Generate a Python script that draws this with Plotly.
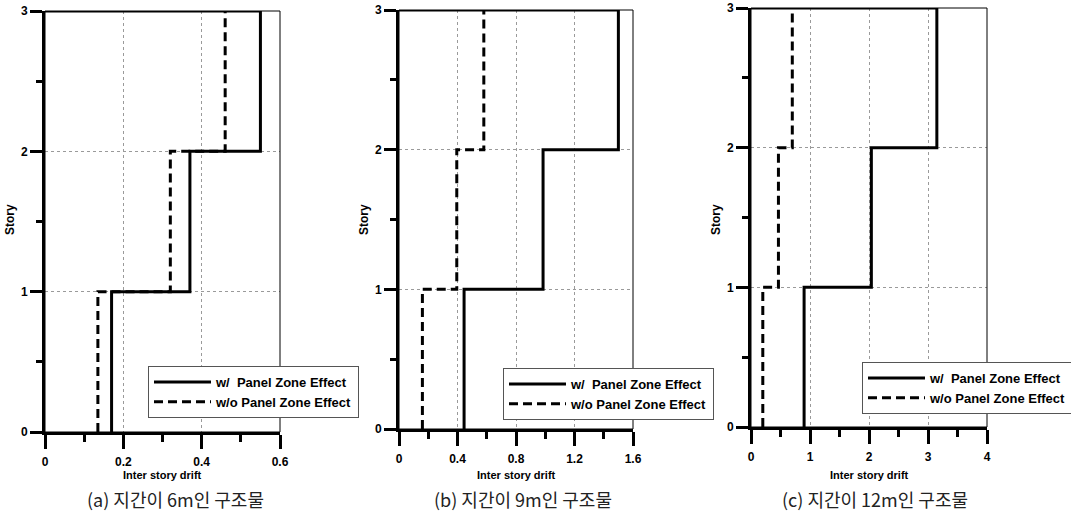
import plotly.graph_objects as go

W, H = 1071, 523

# ---- data ----
stories = [1, 2, 3]
story_ticks = [0, 1, 2, 3]

drift_a_with = [0.17, 0.37, 0.55]
drift_a_without = [0.135, 0.32, 0.46]
drift_b_with = [0.445, 0.985, 1.50]
drift_b_without = [0.16, 0.395, 0.58]
drift_c_with = [0.90, 2.04, 3.15]
drift_c_without = [0.20, 0.465, 0.70]

xticks_a = [0, 0.2, 0.4, 0.6]
xticks_b = [0, 0.4, 0.8, 1.2, 1.6]
xticks_c = [0, 1, 2, 3, 4]

captions = ["(a) 지간이 6m인 구조물", "(b) 지간이 9m인 구조물", "(c) 지간이 12m인 구조물"]
legend_labels = ["w/\u00a0\u00a0Panel Zone Effect", "w/o Panel Zone Effect"]
x_title = "Inter story drift"
y_title = "Story"

# ---- layout geometry (screen pixels) ----
panels = [
    dict(left=45, right=280, top=11, bottom=432, xticks=xticks_a, minor=0.1,
         w=drift_a_with, wo=drift_a_without, leg=(148, 392), cap=175),
    dict(left=399, right=633, top=10, bottom=429, xticks=xticks_b, minor=0.2,
         w=drift_b_with, wo=drift_b_without, leg=(503, 394), cap=523),
    dict(left=751, right=987, top=8, bottom=427, xticks=xticks_c, minor=0.5,
         w=drift_c_with, wo=drift_c_without, leg=(862, 388), cap=875),
]


def px(v):
    return v / W


def py(v):
    return 1 - v / H


FONT = "Liberation Sans, Arial, sans-serif"
CJK = "Noto Sans CJK KR, sans-serif"


def step_path(drifts, close_top=False):
    xs, ys = [], []
    for d, s in zip(drifts, stories):
        xs += [d, d]
        ys += [s - 1, s]
    if close_top:
        xs.append(0)
        ys.append(stories[-1])
    return xs, ys


fig = go.Figure()
annotations = []
shapes = []
layout = dict(
    width=W, height=H, margin=dict(l=0, r=0, t=0, b=0, autoexpand=False),
    paper_bgcolor="white", plot_bgcolor="white", showlegend=True,
)

for i, p in enumerate(panels):
    n = "" if i == 0 else str(i + 1)
    xa, ya = "x" + n, "y" + n
    leg = "legend" + n
    xw, yw = step_path(p["w"], close_top=True)
    xo, yo = step_path(p["wo"])
    fig.add_trace(go.Scatter(x=xw, y=yw, mode="lines", xaxis=xa, yaxis=ya,
                             line=dict(color="black", width=3), name=legend_labels[0],
                             legend=leg, cliponaxis=False))
    fig.add_trace(go.Scatter(x=xo, y=yo, mode="lines", xaxis=xa, yaxis=ya,
                             line=dict(color="black", width=3, dash="9px,5px"),
                             name=legend_labels[1], legend=leg, cliponaxis=False))

    xdom = [px(p["left"]), px(p["right"])]
    ydom = [py(p["bottom"]), py(p["top"])]
    common = dict(
        ticks="outside", tickwidth=3, tickcolor="black",
        showline=True, linewidth=3, linecolor="black", mirror=False,
        showgrid=True, gridcolor="#9a9a9a", griddash="dot", gridwidth=1,
        zeroline=False, fixedrange=True, automargin=False,
        tickfont=dict(family=FONT, size=12, color="black", weight="bold"),
    )
    layout["xaxis" + n] = dict(
        domain=xdom, anchor=ya, range=[0, p["xticks"][-1]],
        tickmode="array", tickvals=p["xticks"], ticktext=[f"{v:g}" for v in p["xticks"]],
        ticklen=14, ticklabelstandoff=3,
        minor=dict(dtick=p["minor"], tick0=0, ticks="outside", ticklen=7, tickwidth=3,
                   tickcolor="black", showgrid=False),
        **common,
    )
    layout["yaxis" + n] = dict(
        domain=ydom, anchor=xa, range=[0, 3],
        tickmode="array", tickvals=story_ticks, ticklen=12,
        minor=dict(dtick=0.5, tick0=0, ticks="outside", ticklen=6, tickwidth=3,
                   tickcolor="black", showgrid=False),
        **common,
    )
    layout[leg] = dict(
        x=px(p["leg"][0]), y=py(p["leg"][1]), xanchor="left", yanchor="middle",
        xref="paper", yref="paper",
        bgcolor="white", bordercolor="#555", borderwidth=1,
        font=dict(family=FONT, size=13, color="black", weight="bold"),
        itemwidth=57, tracegroupgap=0,
    )
    shapes.append(dict(type="rect", xref=xa + " domain", yref=ya + " domain",
                       x0=0, x1=1, y0=0, y1=1, line=dict(color="black", width=1),
                       layer="above"))
    cx = px((p["left"] + p["right"]) / 2)
    annotations.append(dict(text=x_title, x=cx, y=py(475), xref="paper", yref="paper",
                            showarrow=False, xanchor="center", yanchor="middle",
                            font=dict(family=FONT, size=11, color="black", weight="bold")))
    annotations.append(dict(text=y_title, x=px(p["left"] - 35), y=py(220),
                            xref="paper", yref="paper", textangle=-90,
                            showarrow=False, xanchor="center", yanchor="middle",
                            font=dict(family=FONT, size=12, color="black", weight="bold")))
    annotations.append(dict(text=captions[i], x=px(p["cap"]), y=py(499),
                            xref="paper", yref="paper", showarrow=False,
                            xanchor="center", yanchor="middle",
                            font=dict(family=CJK, size=18, color="#222")))

layout["annotations"] = annotations
layout["shapes"] = shapes
fig.update_layout(**layout)
fig.write_html("out.html", config={"displayModeBar": False},
               post_script="document.body.style.margin='0px';")
